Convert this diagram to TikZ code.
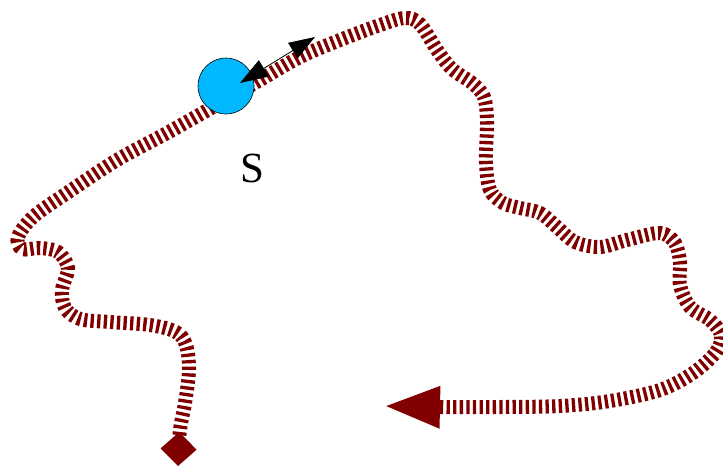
\documentclass[tikz,border=0pt]{standalone}
\usepackage{fontspec}
\setmainfont{Liberation Serif}
\usetikzlibrary{arrows.meta}
\definecolor{track}{HTML}{800000}
\definecolor{ball}{HTML}{00B8FF}
\tikzset{
  trackline/.style={draw=track, line width=14pt, dash pattern=on 3.3pt off 3.3pt,
    {Diamond[length=34pt,width=36pt,fill=track]}-{Triangle[length=57pt,width=38pt,fill=track]}},
  ballnode/.style={circle, draw=black, line width=0.6pt, fill=ball, minimum size=56pt, inner sep=0pt},
  dblarrow/.style={draw=black, line width=0.8pt, {Triangle[length=28pt,width=19pt]}-{Triangle[length=26pt,width=18pt]}},
  lbl/.style={font=\fontsize{43}{43}\selectfont, inner sep=0pt}
}
\begin{document}
\begin{tikzpicture}[x=1pt,y=-1pt]
\useasboundingbox (0,0) rectangle (723,467);
\draw[trackline] plot[smooth, tension=0.55] coordinates {
(178,466) (180,430) (185,403) (189,370) (186,345) (176,332) (150,325) (110,322) (80,319)
(65,308) (62,290) (68,268) (58,252) (40,248) (22,249) (18,237) (33,217) (67,193)
(117,160) (167,133) (213,107) (260,80) (300,57) (340,40) (380,25) (405,18) (420,24)
(437,50) (452,69) (472,83) (484,97) (487,122) (486,163) (490,190) (503,203) (520,208)
(540,213) (557,227) (575,242) (600,247) (627,240) (660,233) (675,243) (680,262)
(680,285) (690,307) (710,320) (721,335) (716,352) (693,373) (660,390) (610,401)
(560,406) (500,407) (440,407) (383,406)};
\node[ballnode] (ball) at (226,86) {};
\coordinate (atail) at (240,83);
\coordinate (ahead) at (315,37);
\draw[dblarrow] (atail) -- (ahead);
\node[lbl] (s) at (252,168) {S};
\end{tikzpicture}
\end{document}
